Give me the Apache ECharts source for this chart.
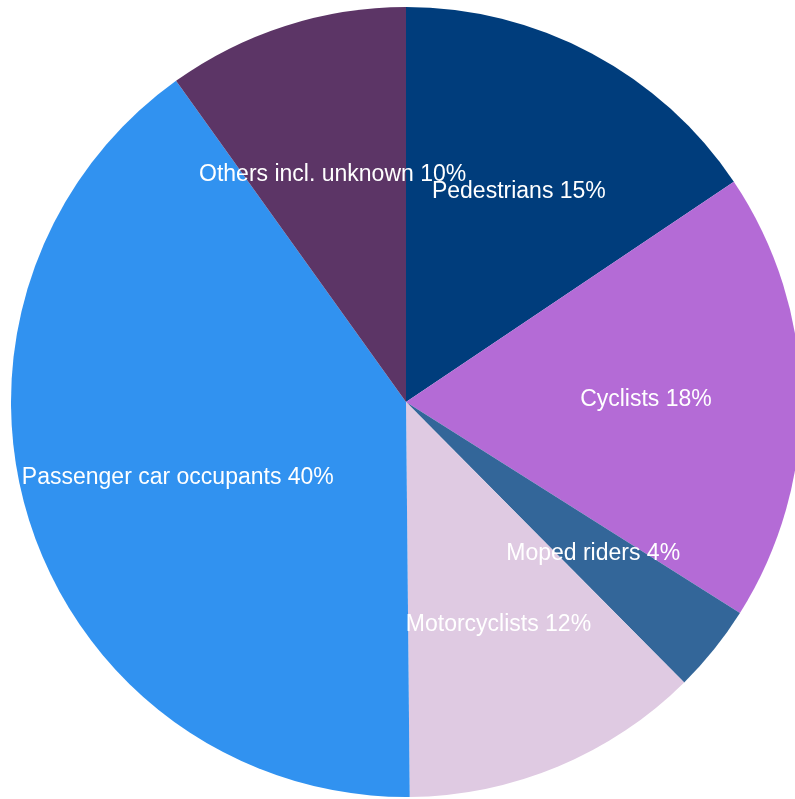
<!DOCTYPE html>
<html><head><meta charset="utf-8">
<script src="https://cdn.jsdelivr.net/npm/echarts@6/dist/echarts.min.js"></script>
<style>html,body{margin:0;padding:0;background:#fff}#c{width:795px;height:799px}</style>
</head><body><div id="c"></div>
<script>
var categories = ['Pedestrians', 'Cyclists', 'Moped riders', 'Motorcyclists', 'Passenger car occupants', 'Others incl. unknown'];
var values = [15.6, 18.4, 3.6, 12.3, 40.3, 9.9];
var shownPercents = [15, 18, 4, 12, 40, 10];
var colors = ['#003d7c', '#b46bd6', '#336699', '#dfcae2', '#3192f0', '#5c3566'];

var chart = echarts.init(document.getElementById('c'), null, {renderer: 'canvas'});
var mainData = categories.map(function (c, i) {
  return {name: c, value: values[i], itemStyle: {color: colors[i]}};
});
var labelData = categories.map(function (c, i) {
  return {name: c, value: values[i]};
});
chart.setOption({
  animation: false,
  series: [{
    type: 'pie',
    center: [406, 402],
    radius: [0, 395],
    startAngle: 90,
    clockwise: true,
    silent: true,
    label: {show: false},
    labelLine: {show: false},
    itemStyle: {borderWidth: 0},
    emphasis: {disabled: true},
    data: mainData
  }, {
    type: 'pie',
    center: [406, 402],
    radius: [79, 395],
    startAngle: 90,
    clockwise: true,
    silent: true,
    itemStyle: {color: 'rgba(0,0,0,0)', borderWidth: 0},
    emphasis: {disabled: true},
    labelLine: {show: false},
    label: {
      show: true,
      position: 'inside',
      color: '#ffffff',
      fontFamily: 'Liberation Sans, Arial, sans-serif',
      fontSize: 23,
      formatter: function (p) { return p.name + ' ' + shownPercents[p.dataIndex] + '%'; }
    },
    labelLayout: function (p) {
      return {dy: 1};
    },
    data: labelData
  }]
});
</script></body></html>
